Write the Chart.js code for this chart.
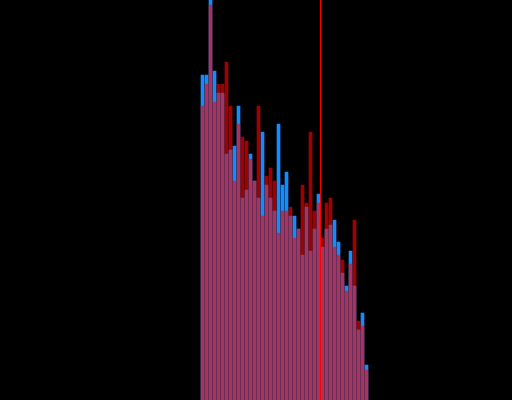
<!DOCTYPE html>
<html>
<head>
<meta charset="utf-8">
<title>Histogram</title>
<script src="https://cdn.jsdelivr.net/npm/chart.js@4"></script>
<style>
  html, body { margin: 0; padding: 0; background: #000; }
  #wrap { width: 512px; height: 400px; }
</style>
</head>
<body>
<div id="wrap"><canvas id="chart"></canvas></div>
<script>
'use strict';
// bin index of each bar
const bins = [0, 1, 2, 3, 4, 5, 6, 7, 8, 9, 10, 11, 12, 13, 14, 15, 16, 17, 18, 19, 20,
  21, 22, 23, 24, 25, 26, 27, 28, 29, 30, 31, 32, 33, 34, 35, 36, 37, 38, 39, 40, 41];
// counts
const blueCounts = [325, 325, 405, 329, 307, 307, 246, 250, 254, 294, 202, 210, 246, 219, 202, 268, 215, 202, 189, 276, 215,
  228, 184, 184, 171, 145, 193, 149, 171, 206, 153, 171, 175, 180, 158, 127, 114, 149, 114, 70, 87, 35];
const redCounts = [294, 316, 395, 298, 316, 316, 338, 294, 219, 276, 263, 259, 241, 219, 294, 184, 224, 232, 219, 167, 189,
  189, 193, 162, 171, 215, 197, 268, 189, 197, 162, 197, 202, 153, 145, 140, 109, 136, 180, 79, 74, 30];
// where the vertical marker sits (in bin units)
const markerBin = 29.5;
const countMax = 400;

function toPoints(values) {
  const pts = [];
  for (let i = 0; i < bins.length; i++) {
    pts.push({ x: bins[i], y: values[i] });
  }
  return pts;
}

const ctx = document.getElementById('chart').getContext('2d');
new Chart(ctx, {
  type: 'bar',
  data: {
    datasets: [
      {
        type: 'line',
        data: [{ x: markerBin, y: 0 }, { x: markerBin, y: countMax }],
        borderColor: '#ff0000',
        borderWidth: 1,
        pointRadius: 0,
        fill: false,
      },
      {
        data: toPoints(redCounts),
        backgroundColor: 'rgba(255, 0, 0, 0.63)',
        borderWidth: 0,
        barThickness: 3,
        grouped: false,
      },
      {
        data: toPoints(blueCounts),
        backgroundColor: 'rgb(18, 140, 255)',
        borderWidth: 0,
        barThickness: 3,
        grouped: false,
      }
    ],
  },
  options: {
    responsive: true,
    maintainAspectRatio: false,
    devicePixelRatio: 1,
    animation: false,
    layout: { padding: 0 },
    plugins: { legend: { display: false }, tooltip: { enabled: false } },
    scales: {
      x: { type: 'linear', min: -50.625, max: 77.375, offset: false, display: false },
      y: { min: 0, max: countMax, display: false },
    },
  },
});
</script>
</body>
</html>
